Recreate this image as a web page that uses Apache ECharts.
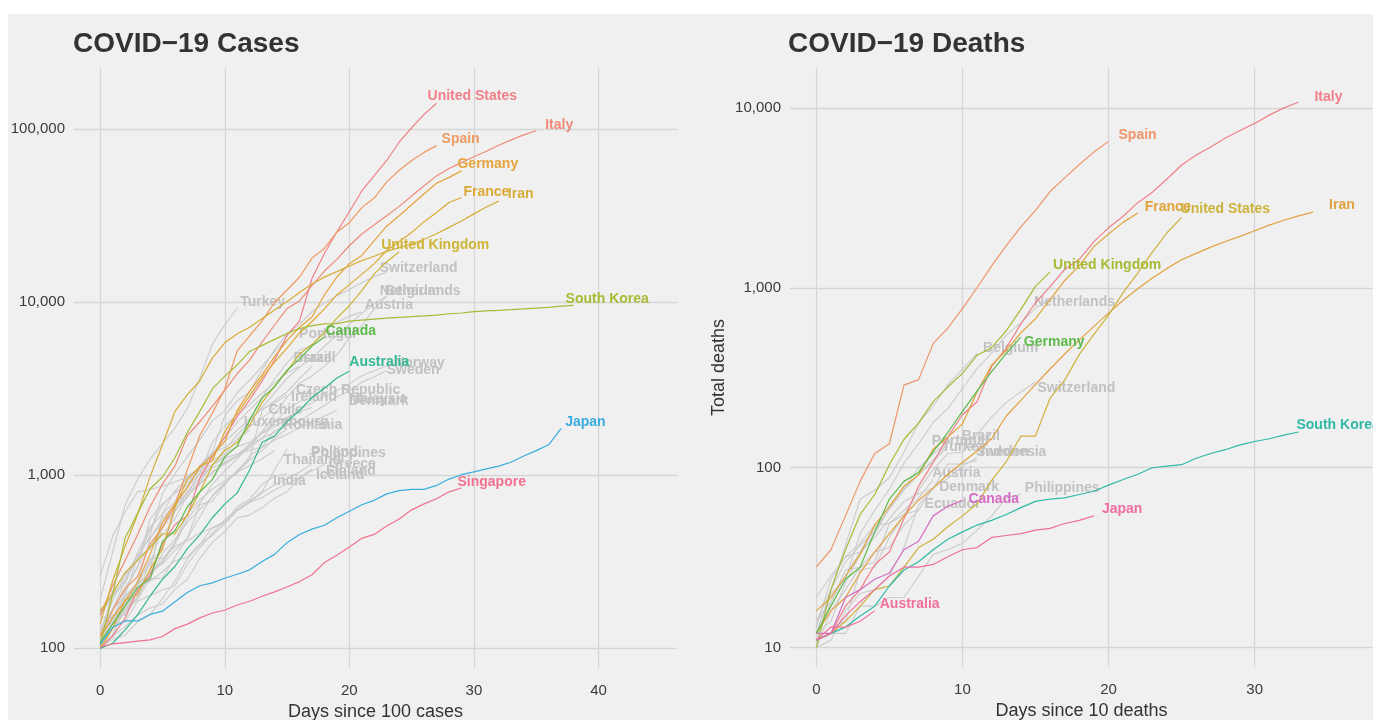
<!DOCTYPE html>
<html><head><meta charset="utf-8">
<script src="https://cdn.jsdelivr.net/npm/echarts@6/dist/echarts.min.js"></script>
<style>html,body{margin:0;padding:0;background:#fff}#c{width:1373px;height:720px}</style>
</head><body><div id="c"></div>
<script>
// ---------- DATA (values indexed by day since threshold) ----------
// Cases (days since 100 cases)
const casesUS = [100,118,149,217,262,402,518,583,959,1281,1663,2179,2727,3499,4632,6421,7786,13680,19101,25493,33276,43847,53740,65778,83836,101657,121478,140886];
const casesItaly = [155,229,322,453,655,888,1128,1694,2036,2502,3089,3858,4636,5883,7375,9172,10149,12462,15113,17660,21157,24747,27980,31506,35713,41035,47021,53578,59138,63927,69176,74386,80589,86498,92472,97689];
const casesSpain = [120,165,222,259,400,500,673,1073,1695,2277,3146,5232,6391,7798,9942,11748,13910,17963,20410,25374,28768,35136,39885,49515,57786,65719,73235,80110];
const casesGermany = [117,150,188,240,349,534,684,847,1112,1296,1567,2369,3062,3795,4838,6012,7156,8198,10999,13957,16662,18610,22672,27436,31554,36508,42288,48582,52547,57298];
const casesFrance = [100,130,191,204,285,377,653,949,1126,1209,1784,2281,2876,3661,4499,5423,6633,7730,9134,10995,12612,14459,16689,19856,22304,25233,29155,32964,37575,40174];
const casesIran = [139,245,388,593,978,1501,2336,2922,3513,4747,5823,6566,7161,8042,9000,10075,11364,12729,13938,14991,16169,17361,18407,19644,20610,21638,23049,24811,27017,29406,32332,35408,38309];
const casesUK = [164,207,274,322,384,459,459,590,801,1143,1391,1543,1950,2626,3269,3983,5018,5683,6650,8077,9529,11658,14543,17089,19522];
const casesSouthKorea = [104,204,433,602,833,977,1261,1766,2337,3150,3736,4335,5186,5621,6088,6593,7041,7314,7478,7513,7755,7869,7979,8086,8162,8236,8320,8413,8565,8652,8799,8897,8961,9037,9137,9241,9332,9478,9583];
const casesCanada = [108,138,176,225,252,415,478,657,800,943,1277,1469,2088,2790,3251,4042,4682,5576,6280];
const casesAustralia = [100,107,128,156,200,250,297,377,452,568,681,791,1071,1549,1682,2044,2364,2810,3179,3640,3984];
const casesJapan = [105,132,144,144,157,164,186,210,230,239,254,268,284,317,349,408,455,488,514,568,620,675,716,780,814,829,829,873,950,1007,1046,1089,1128,1193,1291,1387,1499,1866];
const casesSingapore = [102,106,108,110,112,117,130,138,150,160,166,178,187,200,212,226,243,266,313,345,385,432,455,509,558,631,683,732,802,844];
// grey countries (cases)
const casesTurkey = [191,359,670,947,1236,1529,1872,2433,3629,5698,7402,9217];
const casesSwitzerland = [114,214,268,337,374,491,652,858,1139,1359,2200,2700,3028,4075,5294,6575,7474,8795,9877,10897,11811,12928,14076,14829];
const casesNetherlands = [128,188,265,321,382,503,614,804,959,1135,1413,1705,2051,2460,2994,3631,4204,4749,5560,6412,7431,8603,9762,10866];
const casesBelgium = [109,169,200,239,267,314,399,559,689,886,1058,1243,1486,1795,2257,2815,3401,3743,4269,4937,6235,7284,9134,10836];
const casesAustria = [104,131,182,246,302,504,655,860,1018,1332,1646,2013,2388,2814,3582,4474,5283,5588,6909,7657,8271,8788];
const casesPortugal = [112,169,245,331,448,785,1020,1280,1600,2060,2362,2995,3544,4268,5170,5962];
const casesBrazil = [151,151,162,200,321,372,621,793,1021,1546,1924,2247,2554,2985,3417,3904,4256];
const casesIsrael = [109,131,161,193,251,255,337,433,677,705,883,1071,1238,2369,2693,3035,3619,4247];
const casesNorway = [113,147,169,192,277,598,702,996,1090,1221,1333,1463,1550,1746,1914,2118,2385,2621,2863,3084,3369,3755,4015,4284,4445];
const casesSweden = [161,203,248,355,500,599,814,961,1022,1103,1190,1279,1439,1639,1763,1934,2046,2286,2526,2840,3069,3447,3700,4028];
const casesCzech = [116,150,214,298,383,450,560,765,889,1047,1161,1287,1472,1763,2022,2395,2657,2817];
const casesIreland = [129,169,223,292,557,683,785,906,1125,1329,1564,1819,2121,2415,2615,2910];
const casesDenmark = [262,442,615,801,827,864,914,977,1057,1151,1255,1326,1395,1450,1591,1724,1877,2023,2200,2366];
const casesMalaysia = [129,149,197,238,428,566,673,790,900,1030,1183,1306,1518,1624,2031,2161,2320,2470];
const casesChile = [155,201,238,342,434,537,632,746,922,1142,1306,1610,1909,2139,2449];
const casesLuxembourg = [130,140,203,335,484,670,798,875,1099,1333,1453,1605,1831];
const casesRomania = [113,139,168,217,277,308,367,433,576,762,906,1029,1292,1452,1815,1952];
const casesPoland = [103,119,177,238,251,355,425,536,634,749,901,1051,1221,1389,1638,1862];
const casesPhilippines = [111,140,142,187,202,217,230,307,380,462,552,636,707,803,1075,1418];
const casesFinland = [109,156,155,225,244,277,321,336,400,450,523,626,700,792,880,958,1041,1167];
const casesGreece = [101,117,190,228,331,331,387,418,464,495,530,624,695,743,821,892,966,1061,1156];
const casesThailand = [114,147,177,212,272,322,411,599,721,827,934,1045,1136,1245,1388];
const casesIndia = [102,113,119,142,156,194,244,330,396,499,536,657,727,887,987,1024];
const casesIceland = [103,117,134,156,171,180,220,250,330,409,473,568,588,648,737,802,963,1086];

// Deaths (days since 10 deaths)
const deathsItaly = [11,12,17,21,29,34,52,79,107,148,197,233,366,463,631,827,1016,1266,1441,1809,2158,2503,2978,3405,4032,4825,5476,6077,6820,7503,8215,9134,10023,10779];
const deathsSpain = [28,35,54,84,120,136,288,309,491,598,767,1002,1326,1720,2182,2696,3434,4089,4858,5690,6528];
const deathsIran = [12,16,19,26,34,43,54,66,77,92,107,124,145,194,237,291,354,429,514,611,724,853,988,1135,1284,1433,1556,1685,1812,1934,2077,2234,2378,2517,2640];
const deathsFrance = [16,19,25,33,48,61,79,91,127,148,175,264,372,450,562,674,860,1100,1331,1696,1995,2314,2606];
const deathsUS = [11,12,14,17,21,22,28,36,40,47,54,63,85,108,150,150,244,307,427,552,706,942,1209,1581,2026,2467];
const deathsUK = [10,21,35,55,71,104,144,177,233,281,335,422,465,578,759,1019,1228];
const deathsGermany = [12,17,24,28,44,67,84,94,123,157,206,267,342,433,533];
const deathsSouthKorea = [11,12,13,15,17,22,27,30,35,40,44,48,51,55,60,65,67,68,71,74,80,86,92,100,102,104,113,120,126,134,140,145,152,158];
const deathsCanada = [12,12,19,21,24,26,35,39,54,61,66];
const deathsJapan = [11,12,15,18,21,25,28,28,29,32,35,36,41,42,43,45,46,49,51,54];
const deathsAustralia = [11,13,13,14,16];
// grey countries (deaths)
const deathsNetherlands = [12,20,24,43,58,76,106,136,179,213,276,356,434,546,639,771,864];
const deathsBelgium = [14,21,37,67,75,88,122,178,220,289,353,431];
const deathsSwitzerland = [11,13,14,27,28,41,54,75,98,120,122,153,191,231,264,300];
const deathsBrazil = [11,18,25,34,46,59,77,92,111,136];
const deathsTurkey = [12,21,30,37,44,59,75,92,108,131];
const deathsSweden = [10,11,16,20,21,25,36,62,77,105,105,110];
const deathsPortugal = [12,14,23,33,43,60,76,100,119,140];
const deathsIndonesia = [19,25,32,38,48,49,55,58,78,87,102,114];
const deathsAustria = [10,16,21,28,30,49,58,68,86];
const deathsDenmark = [13,24,32,34,41,52,65,72,77];
const deathsEcuador = [14,18,27,28,34,36,48,58];
const deathsPhilippines = [12,12,12,17,17,19,19,25,33,35,38,45,54,68,71];

// Tick labels
const xTicksCases = [0,10,20,30,40];
const xTicksDeaths = [0,10,20,30];
const yTicksCases = [100,1000,10000,100000];
const yTicksDeaths = [10,100,1000,10000];

// ---------- STYLE ----------
const FONT = 'Liberation Sans, Arial, sans-serif';
const GREY = '#cbcbcb', GREYLAB = '#c2c2c2';
const leftColoured = [
  ['United States', casesUS, '#F08089', [-13,-7]],
  ['Italy', casesItaly, '#EF8B78', [5,-6]],
  ['Spain', casesSpain, '#EE9A63', [1,-7]],
  ['Germany', casesGermany, '#E6A43E', [-8,-7]],
  ['France', casesFrance, '#DCAA34', [-2,-5]],
  ['Iran', casesIran, '#D6AD38', [5,-7]],
  ['United Kingdom', casesUK, '#CDB437', [-22,-7]],
  ['South Korea', casesSouthKorea, '#A9BA35', [-12,-6]],
  ['Canada', casesCanada, '#5DBA4B', [-3,-6]],
  ['Australia', casesAustralia, '#33B795', [-4,-9]],
  ['Japan', casesJapan, '#3AADDF', [0,-6]],
  ['Singapore', casesSingapore, '#F0728F', [-8,-6]]
];
const leftGrey = [
  ['Turkey', casesTurkey, [-1,-6]], ['Switzerland', casesSwitzerland, [-11,-4]],
  ['Netherlands', casesNetherlands, [-11,-5]], ['Belgium', casesBelgium, [-6,-5]],
  ['Austria', casesAustria, [-1,-7]], ['Portugal', casesPortugal, [8,-7]],
  ['Brazil', casesBrazil, [-10,-8]], ['Israel', casesIsrael, [-17,-8]],
  ['Norway', casesNorway, [-9,0]], ['Sweden', casesSweden, [-4,0]],
  ['Czech Republic', casesCzech, [-20,-7]], ['Ireland', casesIreland, [0,2]],
  ['Denmark', casesDenmark, [8,-9]], ['Malaysia', casesMalaysia, [33,-8]],
  ['Chile', casesChile, [-10,2]], ['Luxembourg', casesLuxembourg, [-10,-8]],
  ['Romania', casesRomania, [-8,0]], ['Poland', casesPoland, [20,24]],
  ['Philippines', casesPhilippines, [20,4]], ['Finland', casesFinland, [10,8]],
  ['Greece', casesGreece, [0,0]], ['Thailand', casesThailand, [5,10]],
  ['India', casesIndia, [-18,8]], ['Iceland', casesIceland, [0,6]]
];
const rightColoured = [
  ['Italy', deathsItaly, '#F08089', [12,-5]],
  ['Spain', deathsSpain, '#EE9669', [6,-6]],
  ['Iran', deathsIran, '#E2A13F', [12,-7]],
  ['France', deathsFrance, '#E0A43C', [3,-6]],
  ['United States', deathsUS, '#CDB23B', [-5,-8]],
  ['United Kingdom', deathsUK, '#A8B934', [-1,-7]],
  ['Germany', deathsGermany, '#5DBA4B', [-1,5]],
  ['South Korea', deathsSouthKorea, '#2FB9A6', [-6,-7]],
  ['Canada', deathsCanada, '#D56CC2', [2,-1]],
  ['Japan', deathsJapan, '#EE6FA0', [4,-7]],
  ['Australia', deathsAustralia, '#F2709E', [1,-7]]
];
const rightGrey = [
  ['Netherlands', deathsNetherlands, [-20,3]], ['Belgium', deathsBelgium, [2,-5]],
  ['Switzerland', deathsSwitzerland, [-2,6]], ['Brazil', deathsBrazil, [10,-8]],
  ['Turkey', deathsTurkey, [-10,0]], ['Sweden', deathsSweden, [-5,-8]],
  ['Portugal', deathsPortugal, [-20,0]], ['Indonesia', deathsIndonesia, [0,-5]],
  ['Austria', deathsAustria, [-5,-6]], ['Denmark', deathsDenmark, [2,-1]],
  ['Ecuador', deathsEcuador, [2,-6]], ['Philippines', deathsPhilippines, [0,-6]]
];

function line(name, values, color, labColor, off, idx, w, z) {
  return {
    type: 'line', name: name, xAxisIndex: idx, yAxisIndex: idx,
    data: values.map((v, i) => [i, v]),
    showSymbol: false, symbol: 'none', silent: true, z: z,
    lineStyle: { color: color, width: w },
    endLabel: { show: true, formatter: name, color: labColor, fontFamily: FONT,
      fontWeight: 'bold', fontSize: 14, distance: 4, offset: off },
    emphasis: { disabled: true }
  };
}
const series = [];
leftGrey.forEach(s => series.push(line(s[0], s[1], GREY, GREYLAB, s[2], 0, 1.1, 2)));
rightGrey.forEach(s => series.push(line(s[0], s[1], GREY, GREYLAB, s[2], 1, 1.1, 2)));
leftColoured.forEach(s => series.push(line(s[0], s[1], s[2], s[2], s[3], 0, 1.2, 3)));
rightColoured.forEach(s => series.push(line(s[0], s[1], s[2], s[2], s[3], 1, 1.2, 3)));

const gridLine = { show: true, lineStyle: { color: '#d5d5d5', width: 1.3 }, showMinLine: false, showMaxLine: false };
function xAx(idx, ticks, name, min, max) {
  return { type: 'value', gridIndex: idx, min: min, max: max, splitNumber: 5,
    axisLine: { show: false }, axisTick: { show: false }, splitLine: gridLine,
    axisLabel: { showMinLabel: false, showMaxLabel: false, margin: 15, fontFamily: FONT, fontSize: 15, color: '#3a3a3a',
      formatter: v => ticks.includes(Math.round(v)) && Math.abs(v - Math.round(v)) < 1e-6 ? String(Math.round(v)) : '' },
    name: name, nameLocation: 'middle', nameGap: 33,
    nameTextStyle: { fontFamily: FONT, fontSize: 18, color: '#333' } };
}
function yAx(idx, ticks, min, max, name) {
  return { type: 'log', logBase: 10, gridIndex: idx, min: min, max: max,
    axisLine: { show: false }, axisTick: { show: false }, splitLine: gridLine,
    axisLabel: { showMinLabel: false, showMaxLabel: false, margin: 9, fontFamily: FONT, fontSize: 15, color: '#3a3a3a',
      formatter: v => { const r = Math.round(v); return ticks.some(t => Math.abs(t - v) / t < 1e-3) ? r.toLocaleString('en-US') : ''; } },
    name: name, nameLocation: 'middle', nameGap: 62, nameRotate: 90,
    nameTextStyle: { fontFamily: FONT, fontSize: 18, color: '#333' } };
}

const chart = echarts.init(document.getElementById('c'), null, { renderer: 'canvas' });
chart.setOption({
  animation: false,
  backgroundColor: '#ffffff',
  graphic: [{ type: 'rect', shape: { x: 8, y: 14, width: 1400, height: 720 }, style: { fill: '#f0f0f0' }, z: -10, silent: true }],
  title: [
    { text: 'COVID\u221219 Cases', left: 73, top: 30, padding: 0, textStyle: { fontFamily: FONT, fontSize: 28, fontWeight: 'bold', color: '#333' } },
    { text: 'COVID\u221219 Deaths', left: 788, top: 30, padding: 0, textStyle: { fontFamily: FONT, fontSize: 28, fontWeight: 'bold', color: '#333' } }
  ],
  grid: [
    { left: 74, top: 68, width: 603, height: 600, containLabel: false, outerBoundsMode: 'none' },
    { left: 790, top: 68, width: 583, height: 599, containLabel: false, outerBoundsMode: 'none' }
  ],
  xAxis: [ xAx(0, xTicksCases, 'Days since 100 cases', -2.1, 46.3), xAx(1, xTicksDeaths, 'Days since 10 deaths', -1.8, 38.1) ],
  yAxis: [ yAx(0, yTicksCases, 77, 225000, ''), yAx(1, yTicksDeaths, 7.8, 16700, 'Total deaths') ],
  series: series
});
</script></body></html>
